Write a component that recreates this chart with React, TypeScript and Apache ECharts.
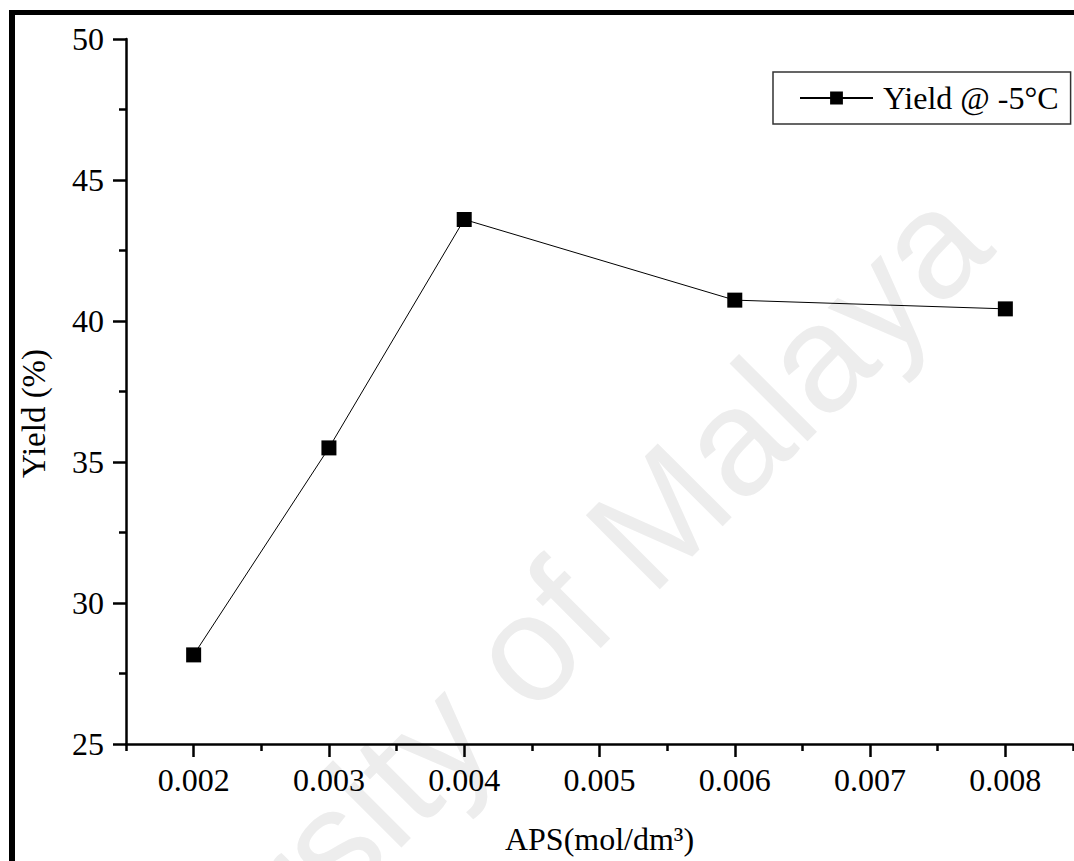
import React, { useEffect, useRef } from "react";
import * as echarts from "echarts";

const xValues = [0.002, 0.003, 0.004, 0.006, 0.008];
const yieldValues = [28.16, 35.5, 43.6, 40.74, 40.43];
const xMajorTicks = [0.002, 0.003, 0.004, 0.005, 0.006, 0.007, 0.008];
const xMinorTicks = [0.0015, 0.0025, 0.0035, 0.0045, 0.0055, 0.0065, 0.0075, 0.0085];
const seriesName = "Yield @ -5°C";
const xName = "APS(mol/dm³)";
const yName = "Yield (%)";
const watermark = "University of Malaya";

const FONT = "'Liberation Serif', 'Times New Roman', serif";

export default function App() {
  const ref = useRef<HTMLDivElement>(null);
  useEffect(() => {
    if (!ref.current) return;
    const chart = echarts.init(ref.current, null, { renderer: "svg" });
    const data = xValues.map((x, i) => [x, yieldValues[i]]);
    chart.setOption({
      animation: false,
      backgroundColor: "#ffffff",
      grid: { left: 126, top: 39, right: 1, bottom: 117, containLabel: false, outerBoundsMode: "none" },
      graphic: [
        {
          type: "text",
          x: 960,
          y: 214,
          rotation: (45 * Math.PI) / 180,
          z: -10,
          silent: true,
          style: {
            text: watermark,
            fontSize: 152,
            fontFamily: "'Liberation Sans', Arial, sans-serif",
            fill: "#ededed",
            align: "right",
            verticalAlign: "middle",
          },
        },
        { type: "rect", shape: { x: 9, y: 10, width: 1065, height: 5 }, style: { fill: "#000" }, z: 100 },
        { type: "rect", shape: { x: 9, y: 10, width: 6, height: 851 }, style: { fill: "#000" }, z: 100 },
      ],
      legend: {
        show: true,
        left: 773,
        top: 72,
        orient: "horizontal",
        padding: [10, 12, 10, 26],
        itemWidth: 73,
        itemHeight: 16,
        borderColor: "#333",
        borderWidth: 1.5,
        backgroundColor: "#fff",
        textStyle: { fontSize: 32, fontFamily: FONT, color: "#000", padding: [0, 0, 0, 5] },
        data: [{ name: seriesName }],
      },
      xAxis: [
        {
          type: "value",
          min: 0.0015,
          max: 0.0085,
          name: xName,
          nameLocation: "middle",
          nameGap: 79,
          nameTextStyle: { fontSize: 32, fontFamily: FONT, color: "#000" },
          axisLine: { show: true, onZero: false, lineStyle: { color: "#000", width: 2.5 } },
          axisTick: { show: true, inside: false, length: 13, customValues: xMajorTicks, lineStyle: { color: "#000", width: 2.5 } },
          axisLabel: {
            show: true,
            customValues: xMajorTicks,
            margin: 20,
            fontSize: 32,
            fontFamily: FONT,
            color: "#000",
            formatter: (v: number) => v.toFixed(3),
          },
          splitLine: { show: false },
        },
        {
          type: "value",
          min: 0.0015,
          max: 0.0085,
          position: "bottom",
          axisLine: { show: false },
          axisTick: { show: true, inside: false, length: 7, customValues: xMinorTicks, lineStyle: { color: "#000", width: 2.5 } },
          axisLabel: { show: false },
          splitLine: { show: false },
        },
      ],
      yAxis: {
        type: "value",
        min: 25,
        max: 50,
        interval: 5,
        name: yName,
        nameLocation: "middle",
        nameGap: 76,
        nameRotate: 90,
        nameTextStyle: { fontSize: 33, fontFamily: FONT, color: "#000", padding: [0, 44, 0, 0] },
        axisLine: { show: true, onZero: false, lineStyle: { color: "#000", width: 2.5 } },
        axisTick: { show: true, inside: false, length: 13, lineStyle: { color: "#000", width: 2.5 } },
        minorTick: { show: true, splitNumber: 2, length: 7, lineStyle: { color: "#000", width: 2.5 } },
        axisLabel: { margin: 22, fontSize: 32, fontFamily: FONT, color: "#000" },
        splitLine: { show: false },
        minorSplitLine: { show: false },
      },
      series: [
        {
          name: seriesName,
          type: "line",
          data,
          symbol: "rect",
          symbolSize: 15,
          color: "#000",
          itemStyle: { color: "#000" },
          lineStyle: { color: "#000", width: 1 },
          z: 5,
        },
      ],
    });
    return () => chart.dispose();
  }, []);
  return (
    <div
      ref={ref}
      style={{ position: "fixed", left: 0, top: 0, width: 1074, height: 861, background: "#fff" }}
    />
  );
}
